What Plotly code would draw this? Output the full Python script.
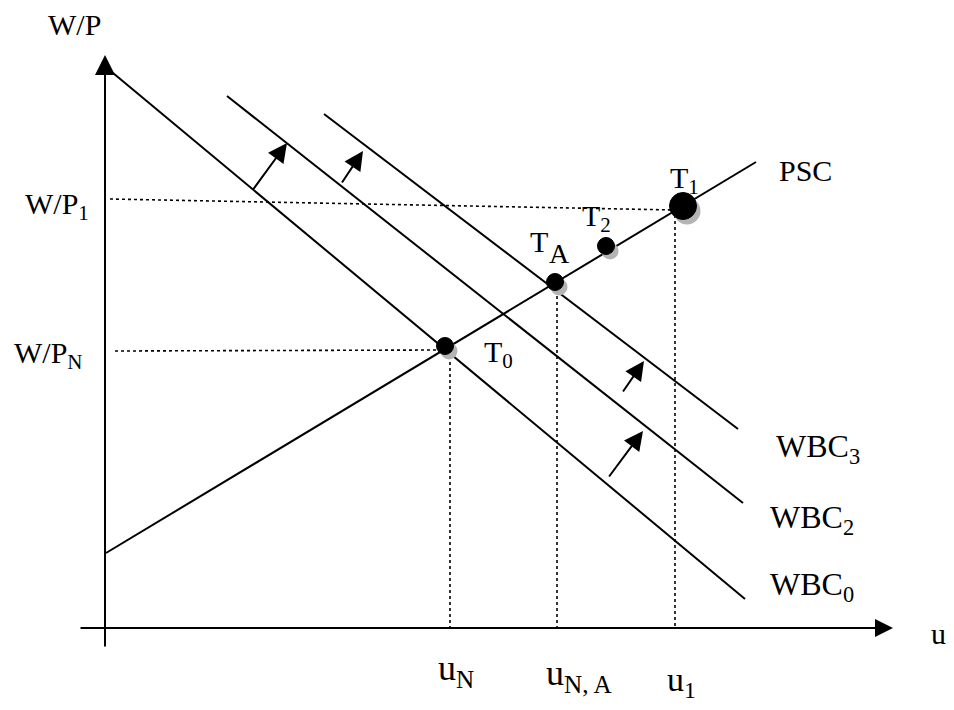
import plotly.graph_objects as go

# ---- data (u on x, W/P on y; origin at axis crossing) ----
wbc0_u = [0.02, 6.40]
wbc0_wp = [5.60, 0.29]
wbc2_u = [1.22, 6.38]
wbc2_wp = [5.32, 1.25]
wbc3_u = [2.19, 6.33]
wbc3_wp = [5.14, 1.99]
psc_u = [0.01, 6.51]
psc_wp = [0.75, 4.66]

point_names = ["T0", "TA", "T2", "T1"]
point_u = [3.40, 4.50, 5.01, 5.78]
point_wp = [2.82, 3.46, 3.82, 4.22]
point_size = [17, 17, 17, 27]

# dotted guides
wp1_u = [0.05, 5.70]
wp1_wp = [4.29, 4.18]
wpn_u = [0.10, 3.35]
wpn_wp = [2.77, 2.78]
vert_u = [3.45, 4.52, 5.70]
vert_top = [2.78, 3.38, 4.13]

# shift arrows: tail (u, wp) -> tip (u, wp)
arrow_tail_u = [1.47, 2.36, 5.17, 5.03]
arrow_tail_wp = [4.37, 4.44, 2.35, 1.50]
arrow_tip_u = [1.82, 2.58, 5.39, 5.38]
arrow_tip_wp = [4.85, 4.77, 2.67, 1.97]

# axes extents
xaxis_u = [-0.26, 7.88]
yaxis_wp = [-0.20, 5.73]

FONT = "Liberation Serif"
fig = go.Figure()

line_style = dict(color="black", width=2)
for uu, ww in [(wbc0_u, wbc0_wp), (wbc2_u, wbc2_wp), (wbc3_u, wbc3_wp), (psc_u, psc_wp)]:
    fig.add_trace(go.Scatter(x=uu, y=ww, mode="lines", line=line_style, hoverinfo="skip"))

dot_style = dict(color="black", width=1.6, dash="dot")
fig.add_trace(go.Scatter(x=wp1_u, y=wp1_wp, mode="lines", line=dot_style, hoverinfo="skip"))
fig.add_trace(go.Scatter(x=wpn_u, y=wpn_wp, mode="lines", line=dot_style, hoverinfo="skip"))
for vu, vt in zip(vert_u, vert_top):
    fig.add_trace(go.Scatter(x=[vu, vu], y=[vt, 0], mode="lines", line=dot_style, hoverinfo="skip"))

# points with drop shadow
SH_U, SH_WP = 0.04, -0.05
fig.add_trace(go.Scatter(x=[u + SH_U for u in point_u], y=[w + SH_WP for w in point_wp],
                         mode="markers",
                         marker=dict(color="#b4b4b4", size=point_size, opacity=1, line=dict(width=0)),
                         hoverinfo="skip"))
fig.add_trace(go.Scatter(x=point_u, y=point_wp, mode="markers",
                         marker=dict(color="#000000", size=point_size, opacity=1,
                                     line=dict(width=1, color="#000000")),
                         hoverinfo="skip"))

ann = []
# axes with arrowheads
ann.append(dict(x=0, y=yaxis_wp[1], ax=0, ay=yaxis_wp[0], xref="x", yref="y", axref="x", ayref="y",
                showarrow=True, arrowhead=2, arrowsize=2.0, arrowwidth=2, arrowcolor="black", text="", standoff=0))
ann.append(dict(x=xaxis_u[1], y=0, ax=xaxis_u[0], ay=0, xref="x", yref="y", axref="x", ayref="y",
                showarrow=True, arrowhead=2, arrowsize=1.8, arrowwidth=2, arrowcolor="black", text="", standoff=0))
for tu, tw, hu, hw in zip(arrow_tail_u, arrow_tail_wp, arrow_tip_u, arrow_tip_wp):
    ann.append(dict(x=hu, y=hw, ax=tu, ay=tw, xref="x", yref="y", axref="x", ayref="y",
                    showarrow=True, arrowhead=2, arrowsize=1.9, arrowwidth=2, arrowcolor="black", text="", standoff=0))

def label(text, u, wp, size=30, xanchor="left", yanchor="middle"):
    ann.append(dict(x=u, y=wp, xref="x", yref="y", text=text, showarrow=False,
                    xanchor=xanchor, yanchor=yanchor, font=dict(family=FONT, size=size, color="black")))

label("W/P", -0.31, 6.04, xanchor="center")
label("W/P<sub>1</sub>", -0.82, 4.22)
label("W/P<sub>N</sub>", -0.93, 2.73)
label("u", 8.24, -0.05)
label("PSC", 6.72, 4.58)
label("WBC<sub>3</sub>", 6.69, 1.80, size=32)
label("WBC<sub>2</sub>", 6.63, 1.09, size=32)
label("WBC<sub>0</sub>", 6.63, 0.42, size=32)
label("T<sub>1</sub>", 5.63, 4.48)
label("T<sub>2</sub>", 4.75, 4.10)
label("T", 4.23, 3.87)
label("A", 4.42, 3.75, size=28)
label("T<sub>0</sub>", 3.77, 2.74)
label("u<sub>N</sub>", 3.31, -0.42, size=36)
label("u<sub>N, A</sub>", 4.39, -0.47, size=36)
label("u<sub>1</sub>", 5.60, -0.54, size=34)

# figure sized so that, with the page's 8px body margin, it fits the 954x710 window
fig.update_layout(
    width=938, height=694,
    margin=dict(l=0, r=0, t=0, b=0),
    paper_bgcolor="white", plot_bgcolor="white",
    showlegend=False,
    annotations=ann,
    xaxis=dict(range=[-0.97, 8.41], visible=False, fixedrange=True),
    yaxis=dict(range=[-0.74, 6.20], visible=False, fixedrange=True),
)

fig.write_html("out.html")
